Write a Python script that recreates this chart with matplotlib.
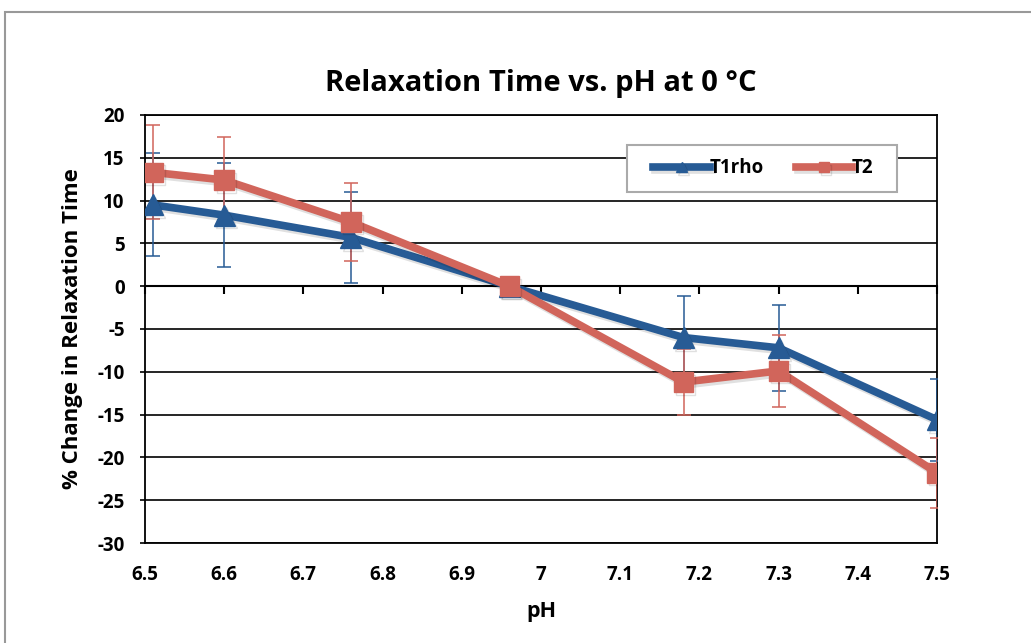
import matplotlib
matplotlib.use('Agg')
import matplotlib.pyplot as plt
import matplotlib.patheffects as pe
from matplotlib.patches import Rectangle

plt.rcParams['font.family'] = ['Open Sans', 'DejaVu Sans']
plt.rcParams['axes.unicode_minus'] = False

# data
ph = [6.51, 6.6, 6.76, 6.96, 7.18, 7.3, 7.5]
t1rho = [9.5, 8.3, 5.7, 0.0, -6.0, -7.2, -15.6]
t1rho_err = [6.0, 6.1, 5.3, 0.0, 4.8, 5.0, 4.8]
t2 = [13.3, 12.4, 7.5, 0.0, -11.2, -9.9, -21.8]
t2_err = [5.5, 5.0, 4.6, 0.0, 3.9, 4.2, 4.1]

x_ticks = [6.5, 6.6, 6.7, 6.8, 6.9, 7.0, 7.1, 7.2, 7.3, 7.4, 7.5]
x_labels = ['6.5', '6.6', '6.7', '6.8', '6.9', '7', '7.1', '7.2', '7.3', '7.4', '7.5']
y_ticks = list(range(-30, 25, 5))

blue = '#275B95'
red = '#D1655B'

fig = plt.figure(figsize=(10.31, 6.43), dpi=100)
fig.add_artist(Rectangle((0.005, -0.2), 1.5, 1.181, transform=fig.transFigure,
                         fill=False, edgecolor='#999999', linewidth=1.5))

ax = fig.add_axes([0.1406, 0.1555, 0.7682, 0.6657])

shadow = [pe.SimpleLineShadow(offset=(1.5, -2), alpha=0.12), pe.Normal()]

ax.errorbar(ph, t1rho, yerr=t1rho_err, fmt='none', ecolor=blue, elinewidth=1.1,
            capsize=5, capthick=1.1, zorder=3)
ax.errorbar(ph, t2, yerr=t2_err, fmt='none', ecolor=red, elinewidth=1.1,
            capsize=5, capthick=1.1, zorder=3)
ax.plot(ph, t1rho, color=blue, lw=5.5, marker='^', markersize=15,
        label='T1rho', zorder=4, path_effects=shadow)
ax.plot(ph, t2, color=red, lw=5.5, marker='s', markersize=14,
        label='T2', zorder=5, path_effects=shadow)

ax.set_xlim(6.5, 7.5)
ax.set_ylim(-30, 20)
ax.set_yticks(y_ticks)
ax.set_xticks(x_ticks)
ax.set_xticklabels(x_labels)
ax.tick_params(axis='x', length=0, pad=16)
ax.tick_params(axis='y', length=3.6, width=1.2, pad=11)
for lbl in ax.get_xticklabels() + ax.get_yticklabels():
    lbl.set_fontweight('bold')
    lbl.set_fontsize(13.5)

ax.grid(axis='y', color='black', linewidth=1.2)
ax.set_axisbelow(True)
for s in ax.spines.values():
    s.set_linewidth(1.3)

# x axis crosses at y=0 with tick marks only
sec = ax.secondary_xaxis(0, transform=ax.transData)
sec.set_xticks(x_ticks)
sec.set_xticklabels([])
sec.tick_params(axis='x', length=6, width=1.5, direction='out')
sec.spines['bottom'].set_linewidth(1.5)

ax.set_title('Relaxation Time vs. pH at 0 °C', fontsize=21, fontweight='bold', pad=17)
ax.set_xlabel('pH', fontsize=15.5, fontweight='bold', labelpad=11)
ax.set_ylabel('% Change in Relaxation Time', fontsize=16, fontweight='bold', labelpad=10)

# legend box
ax.add_patch(Rectangle((0.608, 0.820), 0.341, 0.110, transform=ax.transAxes,
                       facecolor='white', edgecolor='#aaaaaa', linewidth=1.5, zorder=9))
leg = ax.legend(loc='center', bbox_to_anchor=(0.781, 0.875), ncol=2, frameon=False,
                handlelength=3.0, handletextpad=0.0, columnspacing=1.7, borderaxespad=0,
                prop={'weight': 'bold', 'size': 13.5}, markerscale=0.5)
leg.set_zorder(10)

fig.savefig('out.png', dpi=100)
